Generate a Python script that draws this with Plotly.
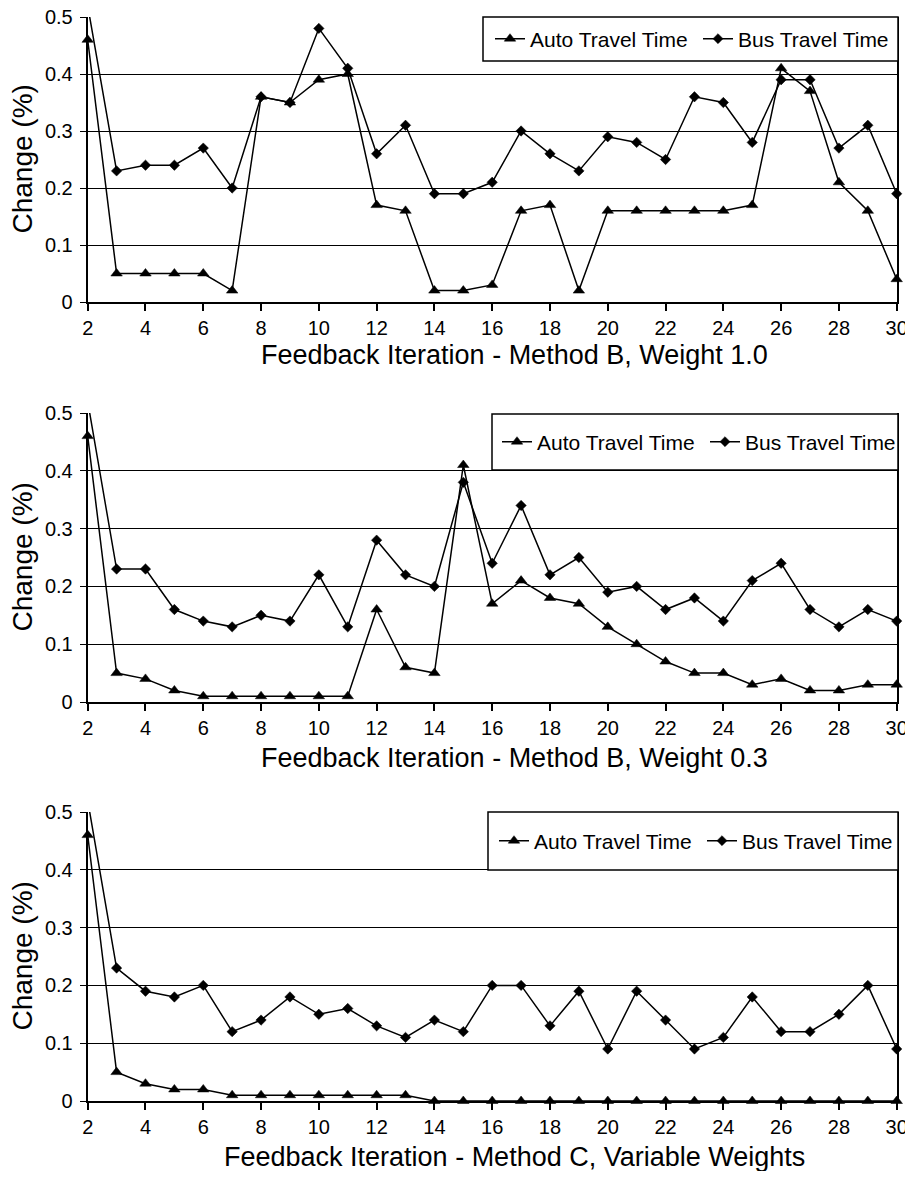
import plotly.graph_objects as go

iterations = list(range(2, 31))

# Panel 1: Method B, Weight 1.0
auto_b10 = [0.46, 0.05, 0.05, 0.05, 0.05, 0.02, 0.36, 0.35, 0.39, 0.40, 0.17, 0.16, 0.02, 0.02,
            0.03, 0.16, 0.17, 0.02, 0.16, 0.16, 0.16, 0.16, 0.16, 0.17, 0.41, 0.37, 0.21, 0.16, 0.04]
bus_b10 = [0.52, 0.23, 0.24, 0.24, 0.27, 0.20, 0.36, 0.35, 0.48, 0.41, 0.26, 0.31, 0.19, 0.19,
           0.21, 0.30, 0.26, 0.23, 0.29, 0.28, 0.25, 0.36, 0.35, 0.28, 0.39, 0.39, 0.27, 0.31, 0.19]

# Panel 2: Method B, Weight 0.3
auto_b03 = [0.46, 0.05, 0.04, 0.02, 0.01, 0.01, 0.01, 0.01, 0.01, 0.01, 0.16, 0.06, 0.05, 0.41,
            0.17, 0.21, 0.18, 0.17, 0.13, 0.10, 0.07, 0.05, 0.05, 0.03, 0.04, 0.02, 0.02, 0.03, 0.03]
bus_b03 = [0.52, 0.23, 0.23, 0.16, 0.14, 0.13, 0.15, 0.14, 0.22, 0.13, 0.28, 0.22, 0.20, 0.38,
           0.24, 0.34, 0.22, 0.25, 0.19, 0.20, 0.16, 0.18, 0.14, 0.21, 0.24, 0.16, 0.13, 0.16, 0.14]

# Panel 3: Method C, Variable Weights
auto_c = [0.46, 0.05, 0.03, 0.02, 0.02, 0.01, 0.01, 0.01, 0.01, 0.01, 0.01, 0.01, 0.00, 0.00,
          0.00, 0.00, 0.00, 0.00, 0.00, 0.00, 0.00, 0.00, 0.00, 0.00, 0.00, 0.00, 0.00, 0.00, 0.00]
bus_c = [0.52, 0.23, 0.19, 0.18, 0.20, 0.12, 0.14, 0.18, 0.15, 0.16, 0.13, 0.11, 0.14, 0.12,
         0.20, 0.20, 0.13, 0.19, 0.09, 0.19, 0.14, 0.09, 0.11, 0.18, 0.12, 0.12, 0.15, 0.20, 0.09]

x_titles = ["Feedback Iteration - Method B, Weight 1.0",
            "Feedback Iteration - Method B, Weight 0.3",
            "Feedback Iteration - Method C, Variable Weights"]
y_title = "Change (%)"
series_names = ["Auto Travel Time", "Bus Travel Time"]
y_max = 0.5

panels = [(auto_b10, bus_b10), (auto_b03, bus_b03), (auto_c, bus_c)]

# page body has an 8px margin; all pixel positions below are in figure coordinates
W, H = 905, 1163
FONT = "Liberation Sans, Arial, sans-serif"
x_left, x_right = 79.7, 888.7
panel_px = [(9, 294), (405, 694), (804, 1093)]
xtitle_px = [347, 750, 1149]
legend_box = [(475, 890, 9, 53), (484, 890, 406, 462), (480, 890, 804, 862)]
legend_left = [482, 489, 486]

fig = go.Figure()
layout = dict(width=W, height=H, margin=dict(l=0, r=0, t=0, b=0),
              paper_bgcolor="white", plot_bgcolor="white",
              font=dict(family=FONT, color="black"), annotations=[], shapes=[])

for i, ((auto, bus), (ptop, pbot)) in enumerate(zip(panels, panel_px)):
    n = "" if i == 0 else str(i + 1)
    xa, ya = "x" + n, "y" + n
    leg = "legend" + n
    fig.add_trace(go.Scatter(x=iterations, y=auto, mode="lines+markers", name=series_names[0],
                             xaxis=xa, yaxis=ya, legend=leg, cliponaxis=False,
                             line=dict(color="black", width=1.5),
                             marker=dict(symbol="triangle-up", size=10, color="black", opacity=1,
                                         line=dict(color="black", width=0.5))))
    sizes = [0 if v > y_max else 8 for v in bus]
    fig.add_trace(go.Scatter(x=iterations, y=bus, mode="lines+markers", name=series_names[1],
                             xaxis=xa, yaxis=ya, legend=leg, cliponaxis=False,
                             line=dict(color="black", width=1.5),
                             marker=dict(symbol="diamond", size=sizes, color="black", opacity=1,
                                         sizemode="diameter", sizeref=1,
                                         line=dict(color="black", width=0.5))))
    dom_y = [1 - pbot / H, 1 - ptop / H]
    layout["xaxis" + n] = dict(domain=[x_left / W, x_right / W], range=[2, 30], anchor=ya,
                               tick0=2, dtick=2, ticks="outside", ticklen=7, tickwidth=1.5,
                               tickcolor="black", showline=True, linecolor="black", linewidth=2,
                               showgrid=False, zeroline=False, automargin=False,
                               ticklabeloverflow="allow",
                               tickfont=dict(size=20, family=FONT, color="black"),
                               ticklabelstandoff=0)
    layout["yaxis" + n] = dict(domain=dom_y, range=[0, y_max], anchor=xa,
                               tick0=0, dtick=0.1, ticks="outside", ticklen=6, tickwidth=1,
                               tickcolor="black", showline=True, linecolor="black", linewidth=2,
                               mirror=True, showgrid=True, gridcolor="black", gridwidth=1,
                               zeroline=False, automargin=False,
                               ticklabeloverflow="allow",
                               tickformat=".1~f",
                               tickfont=dict(size=20, family=FONT, color="black"),
                               ticklabelstandoff=3)
    bx0, bx1, by0, by1 = legend_box[i]
    layout["shapes"].append(dict(type="rect", xref="paper", yref="paper",
                                 x0=bx0 / W, x1=bx1 / W, y0=1 - by1 / H, y1=1 - by0 / H,
                                 line=dict(color="black", width=1.5), fillcolor="white",
                                 layer="above"))
    layout[leg] = dict(x=legend_left[i] / W, xanchor="left",
                       y=1 - (by0 + by1) / 2 / H, yanchor="middle",
                       orientation="h", borderwidth=0, bgcolor="rgba(0,0,0,0)",
                       font=dict(size=21, family=FONT, color="black"), itemwidth=30,
                       entrywidth=163, entrywidthmode="pixels")
    layout["annotations"].append(dict(text=x_titles[i], xref="paper", yref="paper",
                                      x=507 / W, y=1 - xtitle_px[i] / H, xanchor="center",
                                      yanchor="middle", showarrow=False,
                                      font=dict(size=27, family=FONT, color="black")))
    layout["annotations"].append(dict(text=y_title, xref="paper", yref="paper",
                                      x=14 / W, y=1 - (ptop + pbot) / 2 / H, xanchor="center",
                                      yanchor="middle", showarrow=False, textangle=-90,
                                      font=dict(size=28, family=FONT, color="black")))

fig.update_layout(**layout)
fig.write_html("out.html")
